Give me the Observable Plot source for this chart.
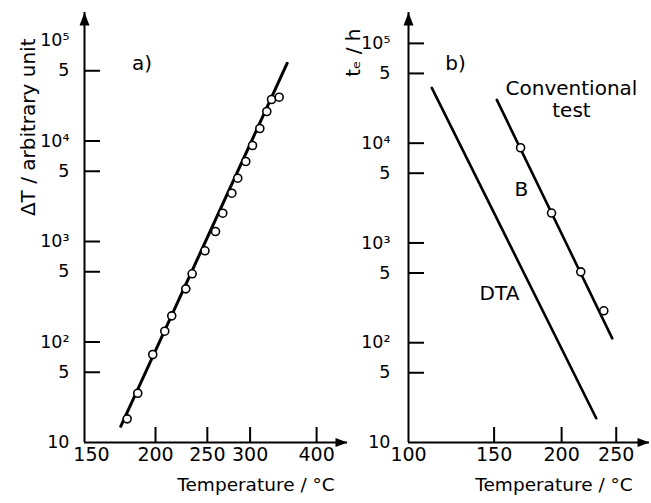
<!DOCTYPE html>
<html><head><meta charset="utf-8">
<script src="https://cdn.jsdelivr.net/npm/d3@7"></script>
<script src="https://cdn.jsdelivr.net/npm/@observablehq/plot@0.6"></script>
<style>
body{margin:0;background:#fff;}
#wrap{position:relative;width:651px;height:503px;overflow:hidden;background:#fff;}
#wrap svg{position:absolute;top:0;}
</style></head><body><div id="wrap"></div>
<script>
// ---- data: panel a (ΔT vs temperature, °C) ----
const tempA = [176.5,185,197.6,208.2,214.6,228,234.3,247.5,258.9,267,277.5,284.6,294.5,303.1,312.7,322.2,328.8,339.8];
const deltaT = [17.2,30.9,75.1,128,182,338,477,808,1257,1912,3024,4265,6252,9020,13320,19660,25880,27280];
const fitTempA = [171.5, 351.8];
const fitDeltaT = [14.5, 59400];

// ---- data: panel b (t_e vs temperature, °C) ----
const dtaTemp = [112.4, 230.5];
const dtaTime = [35810, 17.5];
const convTemp = [151.8, 246.0];
const convTime = [27170, 110.7];
const convPtTemp = [168.3, 191.8, 216.4, 237.7];
const convPtTime = [8995, 1995, 513, 209];

// ---- ticks ----
const yTickValues = [100000, 50000, 10000, 5000, 1000, 500, 100, 50, 10];
const yTickLabels = ["10⁵", "5", "10⁴", "5", "10³", "5", "10²", "5", "10"];
const yTickMarksA = [50000, 10000, 5000, 1000, 500, 100, 50];
const yTickMarksB = [100000, 50000, 10000, 5000, 1000, 500, 100, 50];
const xLabelsA = [150, 200, 250, 300, 400];
const xTickMarksA = [200, 250, 300, 400];
const xLabelsB = [100, 150, 200, 250];
const xTickMarksB = [150, 200, 250];

// ---- reciprocal temperature axis (Arrhenius) ----
const K0 = 273.15;
const toU = t => -1000 / (t + K0);
const fromU = u => -1000 / u - K0;
const yLab = new Map(yTickValues.map((v, i) => [v, yTickLabels[i]]));

const upHead = {draw(c){ c.moveTo(0,0); c.lineTo(5,13); c.lineTo(-5,13); c.closePath(); }};
const rightHead = {draw(c){ c.moveTo(0,0); c.lineTo(-12,-4.5); c.lineTo(-12,4.5); c.closePath(); }};

const font = "DejaVu Sans";

function panel({width, marginLeft, marginRight, xDom, yDom, yTicks, xLabels, xTicks, yTitle, yTitleDx, yTitleDy, xTitleDx, tickPad, marks}) {
  const height = 503, marginTop = 12, marginBottom = 61;
  const fw = width - marginLeft - marginRight, fh = height - marginTop - marginBottom;
  const u0 = toU(xDom[0]), u1 = toU(xDom[1]);
  return Plot.plot({
    width, height, marginLeft, marginRight, marginTop, marginBottom,
    style: {background: "transparent", fontFamily: font, color: "black"},
    x: {type: "linear", domain: [u0, u1], axis: null},
    y: {type: "log", domain: yDom, axis: null},
    marks: [
      Plot.ruleX([u0], {y1: yDom[0], y2: yDom[1], strokeWidth: 2, stroke: "black"}),
      Plot.ruleY([yDom[0]], {x1: u0, x2: u1, strokeWidth: 2, stroke: "black"}),
      Plot.dot([0], {x: u0, y: yDom[1], symbol: upHead, fill: "black", r: 5}),
      Plot.dot([0], {x: u1, y: yDom[0], symbol: rightHead, fill: "black", r: 5}),
      Plot.tickY(yTicks, {y: d => d, insetRight: fw - 16, strokeWidth: 2, stroke: "black"}),
      Plot.tickX(xTicks, {x: d => toU(d), insetTop: fh - 15, strokeWidth: 2, stroke: "black"}),
      Plot.text(yTickValues, {y: d => d, text: d => yLab.get(d), frameAnchor: "left", textAnchor: "end", dx: -tickPad, fontSize: 17.5}),
      Plot.axisX(xLabels.map(toU), {anchor: "bottom", tickSize: 0, tickPadding: 5, tickFormat: u => Math.round(fromU(u)), fontSize: 19, label: null}),
      Plot.text([yTitle], {frameAnchor: "top-left", rotate: -90, textAnchor: "end", dx: yTitleDx, dy: yTitleDy, fontSize: 20}),
      Plot.text(["Temperature / °C"], {frameAnchor: "bottom", dx: xTitleDx, dy: 48, fontSize: 18.5}),
      ...marks
    ]
  });
}

const svgA = panel({
  width: 350, marginLeft: 84, marginRight: 3,
  xDom: [145.2, 459.4], yDom: [10, 190000],
  yTicks: yTickMarksA, xLabels: xLabelsA, xTicks: xTickMarksA,
  yTitle: "ΔT / arbitrary unit", yTitleDx: -64, yTitleDy: 26, xTitleDx: 40, tickPad: 15,
  marks: [
    Plot.line(fitTempA, {x: fitTempA.map(toU), y: fitDeltaT, stroke: "black", strokeWidth: 3}),
    Plot.dot(tempA, {x: tempA.map(toU), y: deltaT, r: 4, fill: "white", stroke: "black", strokeWidth: 1.6}),
    Plot.text(["a)"], {x: toU(188.5), y: 59000, fontSize: 20})
  ]
});

const svgB = panel({
  width: 321, marginLeft: 78, marginRight: 2,
  xDom: [100, 286.0], yDom: [10, 204000],
  yTicks: yTickMarksB, xLabels: xLabelsB, xTicks: xTickMarksB,
  yTitle: "tₑ / h", yTitleDx: -63, yTitleDy: 16, xTitleDx: 25, tickPad: 18,
  marks: [
    Plot.line(dtaTemp, {x: dtaTemp.map(toU), y: dtaTime, stroke: "black", strokeWidth: 2.6}),
    Plot.line(convTemp, {x: convTemp.map(toU), y: convTime, stroke: "black", strokeWidth: 2.6}),
    Plot.dot(convPtTemp, {x: convPtTemp.map(toU), y: convPtTime, r: 4, fill: "white", stroke: "black", strokeWidth: 1.6}),
    Plot.text(["b)"], {x: toU(125.9), y: 62700, fontSize: 20}),
    Plot.text(["Conventional\ntest"], {x: toU(208.3), y: 27700, fontSize: 20, lineHeight: 1.12}),
    Plot.text(["B"], {x: toU(168.8), y: 3400, fontSize: 20}),
    Plot.text(["DTA"], {x: toU(153.6), y: 310, fontSize: 20})
  ]
});

svgA.style.left = "0px";
svgB.style.left = "330px";
const wrap = document.getElementById("wrap");
wrap.appendChild(svgA);
wrap.appendChild(svgB);
</script></body></html>
